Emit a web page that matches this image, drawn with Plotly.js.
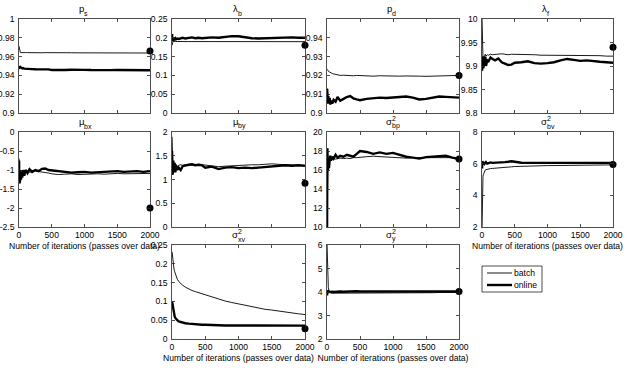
<!DOCTYPE html>
<html>
<head>
<meta charset="utf-8">
<script src="https://cdn.plot.ly/plotly-3.0.1.min.js"></script>
<style>body{margin:0;background:#fff}#chart{width:628px;height:378px}</style>
</head>
<body>
<div id="chart"></div>
<script>
// iterations (passes over data) at which the estimates were read
const iters = [1, 5, 10, 15, 20, 30, 40, 50, 60, 80, 100, 130, 160, 200, 250, 300, 350, 400, 450, 500,
  600, 700, 800, 900, 1000, 1100, 1200, 1300, 1400, 1500, 1600, 1700, 1800, 1900, 2000]

const psBatch = [0.971, 0.968, 0.966, 0.965, 0.9645, 0.9642, 0.9643, 0.9642, 0.9641, 0.9642, 0.9643, 0.9642, 0.9641, 0.9642, 0.9642, 0.9641, 0.9641, 0.9642, 0.9641, 0.9641,
  0.9640, 0.9640, 0.9641, 0.9640, 0.9640, 0.9639, 0.9639, 0.9640, 0.9639, 0.9639, 0.9638, 0.9638, 0.9638, 0.9638, 0.9638]
const psOnline = [0.950, 0.948, 0.9495, 0.9485, 0.949, 0.948, 0.9478, 0.9475, 0.9478, 0.9472, 0.947, 0.9468, 0.9466, 0.9467, 0.9465, 0.9466, 0.9463, 0.9462, 0.9464, 0.9458,
  0.9455, 0.9457, 0.946, 0.9462, 0.9459, 0.9457, 0.9459, 0.9458, 0.9456, 0.9457, 0.9458, 0.9456, 0.9455, 0.9456, 0.9455]

const lbBatch = [0.18, 0.186, 0.189, 0.19, 0.191, 0.19, 0.1905, 0.19, 0.1902, 0.19, 0.1898, 0.19, 0.1901, 0.19, 0.1899, 0.19, 0.19, 0.1901, 0.19, 0.1899,
  0.19, 0.1901, 0.19, 0.1899, 0.1898, 0.19, 0.1899, 0.1898, 0.1899, 0.19, 0.1899, 0.1898, 0.1898, 0.1897, 0.1897]
const lbOnline = [0.21, 0.192, 0.2, 0.194, 0.198, 0.195, 0.197, 0.199, 0.196, 0.198, 0.197, 0.199, 0.2, 0.198, 0.2, 0.201, 0.199, 0.2, 0.199, 0.2,
  0.201, 0.2, 0.202, 0.2045, 0.204, 0.201, 0.199, 0.198, 0.199, 0.2, 0.201, 0.2, 0.201, 0.2, 0.2]

const pdBatch = [0.923, 0.9232, 0.9228, 0.9225, 0.9222, 0.922, 0.9218, 0.9215, 0.9212, 0.921, 0.9208, 0.9205, 0.9202, 0.92, 0.9201, 0.9199, 0.92, 0.9198, 0.92, 0.9199,
  0.9197, 0.9196, 0.9198, 0.9196, 0.9195, 0.9196, 0.9197, 0.9195, 0.9196, 0.9195, 0.9196, 0.9197, 0.9198, 0.9199, 0.92]
const pdOnline = [0.913, 0.908, 0.911, 0.905, 0.909, 0.9055, 0.908, 0.9045, 0.9065, 0.905, 0.907, 0.906, 0.9085, 0.9065, 0.9075, 0.9085, 0.909, 0.9078, 0.9072, 0.9068,
  0.9075, 0.9078, 0.9082, 0.908, 0.9083, 0.9087, 0.9088, 0.9082, 0.9072, 0.9075, 0.9083, 0.9088, 0.9086, 0.9084, 0.9082]

const lfBatch = [10.0, 9.96, 9.93, 9.915, 9.92, 9.918, 9.922, 9.925, 9.921, 9.924, 9.923, 9.925, 9.924, 9.925, 9.926, 9.926, 9.925, 9.924, 9.925, 9.925,
  9.924, 9.924, 9.924, 9.923, 9.923, 9.923, 9.923, 9.923, 9.922, 9.922, 9.922, 9.922, 9.922, 9.921, 9.921]
const lfOnline = [9.89, 9.92, 9.9, 9.915, 9.895, 9.912, 9.905, 9.92, 9.9, 9.912, 9.91, 9.918, 9.915, 9.912, 9.916, 9.908, 9.905, 9.902, 9.903, 9.907,
  9.908, 9.91, 9.906, 9.905, 9.906, 9.908, 9.912, 9.915, 9.913, 9.911, 9.912, 9.91, 9.909, 9.908, 9.907]

const mbxBatch = [-0.7, -1.2, -1.05, -1.3, -1.1, -1.0, -1.15, -1.05, -1.12, -1.0, -1.08, -1.02, -1.06, -1.05, -1.03, -1.04, -1.05, -1.06, -1.08, -1.1,
  -1.12, -1.11, -1.1, -1.12, -1.11, -1.1, -1.1, -1.11, -1.1, -1.09, -1.1, -1.1, -1.1, -1.1, -1.09]
const mbxOnline = [-0.75, -1.35, -1.0, -1.3, -1.05, -1.25, -1.1, -1.2, -1.0, -1.15, -1.0, -1.08, -0.98, -1.05, -1.0, -1.03, -0.97, -0.96, -1.0, -1.01,
  -1.03, -1.05, -1.07, -1.06, -1.05, -1.07, -1.06, -1.05, -1.04, -1.03, -1.05, -1.04, -1.03, -1.05, -1.03]

const mbyBatch = [1.9, 1.5, 1.3, 1.2, 1.35, 1.25, 1.3, 1.28, 1.32, 1.27, 1.3, 1.31, 1.3, 1.31, 1.3, 1.3, 1.31, 1.32, 1.31, 1.3,
  1.28, 1.27, 1.28, 1.29, 1.3, 1.3, 1.31, 1.31, 1.32, 1.33, 1.32, 1.31, 1.3, 1.3, 1.29]
const mbyOnline = [1.6, 1.1, 1.5, 1.15, 1.4, 1.2, 1.35, 1.15, 1.3, 1.2, 1.25, 1.2, 1.28, 1.3, 1.31, 1.32, 1.3, 1.31, 1.3, 1.25,
  1.27, 1.22, 1.25, 1.26, 1.24, 1.25, 1.24, 1.25, 1.26, 1.27, 1.28, 1.3, 1.29, 1.3, 1.29]

const sbpBatch = [10.2, 14, 16.5, 17.2, 16.8, 16.9, 17.1, 17.0, 17.2, 17.1, 17.2, 17.15, 17.2, 17.25, 17.2, 17.25, 17.2, 17.3, 17.3, 17.35,
  17.4, 17.45, 17.4, 17.35, 17.3, 17.3, 17.25, 17.3, 17.3, 17.35, 17.35, 17.3, 17.3, 17.3, 17.3]
const sbpOnline = [10, 18.3, 17.0, 16.0, 16.8, 16.2, 17.0, 17.5, 17.0, 17.4, 17.2, 17.6, 17.3, 17.5, 17.4, 17.6, 17.5, 17.4, 17.7, 18.0,
  17.9, 17.7, 17.85, 17.7, 17.8, 17.6, 17.4, 17.3, 17.2, 17.35, 17.4, 17.45, 17.5, 17.3, 17.15]

const sbvBatch = [2.0, 4.2, 4.9, 5.2, 5.3, 5.45, 5.55, 5.6, 5.62, 5.65, 5.67, 5.69, 5.7, 5.72, 5.74, 5.76, 5.77, 5.79, 5.8, 5.82,
  5.84, 5.85, 5.86, 5.87, 5.88, 5.88, 5.89, 5.89, 5.9, 5.9, 5.9, 5.91, 5.91, 5.92, 5.92]
const sbvOnline = [5.7, 6.15, 5.9, 6.05, 5.95, 6.1, 6.0, 6.05, 6.1, 6.0, 6.05, 6.08, 6.05, 6.07, 6.06, 6.08, 6.1, 6.12, 6.15, 6.12,
  6.06, 6.05, 6.05, 6.04, 6.06, 6.07, 6.05, 6.06, 6.05, 6.06, 6.07, 6.06, 6.06, 6.06, 6.05]

const sxvBatch = [0.232, 0.222, 0.212, 0.203, 0.196, 0.186, 0.179, 0.172, 0.167, 0.159, 0.153, 0.147, 0.143, 0.138, 0.133, 0.129, 0.126, 0.123, 0.12, 0.117,
  0.112, 0.106, 0.101, 0.097, 0.093, 0.089, 0.085, 0.082, 0.079, 0.077, 0.074, 0.071, 0.069, 0.067, 0.065]
const sxvOnline = [0.1, 0.095, 0.088, 0.08, 0.074, 0.066, 0.06, 0.056, 0.053, 0.05, 0.047, 0.045, 0.043, 0.042, 0.041, 0.04, 0.039, 0.039, 0.038, 0.038,
  0.037, 0.037, 0.036, 0.036, 0.036, 0.035, 0.035, 0.036, 0.036, 0.036, 0.036, 0.036, 0.036, 0.0355, 0.0355]

const syBatch = [6.0, 5.4, 4.8, 4.4, 4.2, 4.05, 4.0, 3.97, 3.96, 3.95, 3.95, 3.94, 3.95, 3.95, 3.95, 3.95, 3.96, 3.96, 3.96, 3.96,
  3.96, 3.96, 3.97, 3.97, 3.97, 3.97, 3.97, 3.97, 3.97, 3.97, 3.97, 3.98, 3.98, 3.98, 3.98]
const syOnline = [3.85, 4.05, 3.95, 4.03, 3.98, 4.02, 4.0, 4.01, 4.02, 4.01, 4.0, 4.01, 4.02, 4.02, 4.01, 4.02, 4.02, 4.02, 4.03, 4.02,
  4.02, 4.02, 4.02, 4.03, 4.02, 4.02, 4.02, 4.02, 4.02, 4.02, 4.02, 4.02, 4.02, 4.02, 4.02]

// true parameter values (the dots at the last iteration), in panel order
const trueValues = [0.966, 0.18, 0.92, 9.94, -2, 0.92, 17.15, 5.95, 0.027, 4.02]

// [base, superscript, subscript]
const titles = [['p', '', 's'], ['λ', '', 'b'], ['p', '', 'd'], ['λ', '', 'f'], ['μ', '', 'bx'],
  ['μ', '', 'by'], ['σ', '2', 'bp'], ['σ', '2', 'bv'], ['σ', '2', 'xv'], ['σ', '2', 'y']]

const yTicks = [
  ['0.9', '0.92', '0.94', '0.96', '0.98', '1'],
  ['0', '0.05', '0.1', '0.15', '0.2', '0.25'],
  ['0.9', '0.91', '0.92', '0.93', '0.94'],
  ['9.8', '9.85', '9.9', '9.95', '10'],
  ['-2.5', '-2', '-1.5', '-1', '-0.5', '0'],
  ['0', '0.5', '1', '1.5', '2'],
  ['10', '12', '14', '16', '18', '20'],
  ['2', '4', '6', '8'],
  ['0', '0.05', '0.1', '0.15', '0.2', '0.25'],
  ['2', '3', '4', '5', '6'],
]
const yRanges = [[0.9, 1], [0, 0.25], [0.9, 0.95], [9.8, 10], [-2.5, 0], [0, 2], [10, 20], [2, 8], [0, 0.25], [2, 6]]
const xTicks = ['0', '500', '1000', '1500', '2000']
const seriesNames = ['batch', 'online']

const batchSeries = [psBatch, lbBatch, pdBatch, lfBatch, mbxBatch, mbyBatch, sbpBatch, sbvBatch, sxvBatch, syBatch]
const onlineSeries = [psOnline, lbOnline, pdOnline, lfOnline, mbxOnline, mbyOnline, sbpOnline, sbvOnline, sxvOnline, syOnline]

// layout of the grid (pixels in the 628x378 figure)
const W = 628, H = 378
const cols = [[19, 150], [172, 305], [327, 459], [482, 613]]
const rows = [[19, 113], [132, 227], [245, 339]]
const cells = [[0, 0], [0, 1], [0, 2], [0, 3], [1, 0], [1, 1], [1, 2], [1, 3], [2, 1], [2, 2]]
const withXLabels = [4, 7, 8, 9]

const font = { family: 'Liberation Sans, Arial, sans-serif', size: 8.6, color: '#000' }
const xLabel = 'Number of iterations (passes over data)'
const lineWidths = [0.9, 2.4]

let data = []
let layout = {
  width: W,
  height: H,
  margin: { l: 0, r: 0, t: 0, b: 0 },
  paper_bgcolor: '#fff',
  plot_bgcolor: '#fff',
  font,
  showlegend: false,
  annotations: [],
  shapes: [],
}

cells.forEach(([r, c], i) => {
  const n = i === 0 ? '' : String(i + 1)
  const xa = 'x' + n, ya = 'y' + n
  const showX = withXLabels.includes(i)

  layout['xaxis' + n] = {
    domain: [cols[c][0] / W, cols[c][1] / W],
    anchor: ya,
    range: [0, 2000],
    tickvals: xTicks.map(Number),
    ticktext: xTicks,
    showticklabels: showX,
    ticks: 'inside', ticklen: 3, tickcolor: '#222', tickwidth: 0.8,
    showline: true, linecolor: '#222', linewidth: 0.8, mirror: 'ticks',
    showgrid: false, zeroline: false,
    tickfont: font,
    title: showX ? { text: xLabel, font, standoff: 3 } : { text: '' },
  }
  layout['yaxis' + n] = {
    domain: [1 - rows[r][1] / H, 1 - rows[r][0] / H],
    anchor: xa,
    range: yRanges[i],
    tickvals: yTicks[i].map(Number),
    ticktext: yTicks[i],
    ticks: 'inside', ticklen: 3, tickcolor: '#222', tickwidth: 0.8,
    showline: true, linecolor: '#222', linewidth: 0.8, mirror: 'ticks',
    showgrid: false, zeroline: false,
    tickfont: font,
    ticklabelstandoff: 2,
  }

  data.push({
    x: iters, y: batchSeries[i], xaxis: xa, yaxis: ya,
    type: 'scatter', mode: 'lines', name: seriesNames[0],
    line: { color: '#000', width: lineWidths[0] },
  })
  data.push({
    x: iters, y: onlineSeries[i], xaxis: xa, yaxis: ya,
    type: 'scatter', mode: 'lines', name: seriesNames[1],
    line: { color: '#000', width: lineWidths[1] },
  })
  data.push({
    x: [2000], y: [trueValues[i]], xaxis: xa, yaxis: ya,
    type: 'scatter', mode: 'markers',
    marker: { color: '#000', size: 7 },
    cliponaxis: false,
  })

  // title: base letter with subscript, and stacked superscript for the variances
  const [base, sup, sub] = titles[i]
  const tf = { ...font, size: 9.5 }
  const sf = { ...font, size: 7 }
  const common = { xref: xa + ' domain', yref: ya + ' domain', x: 0.5, y: 1, yanchor: 'bottom', showarrow: false }
  layout.annotations.push({ ...common, xanchor: 'right', xshift: 1, yshift: 3, text: base, font: tf })
  if (sup) {
    layout.annotations.push({ ...common, xanchor: 'left', xshift: -3, yshift: 8, text: sup, font: sf })
  }
  layout.annotations.push({ ...common, xanchor: 'left', xshift: -3, yshift: 0, text: sub, font: sf })
})

// hand-made legend box (MATLAB style) in the empty bottom-right cell
const lg = { x0: 482, x1: 542, y0: 266, y1: 292 }
layout.shapes.push({
  type: 'rect', xref: 'paper', yref: 'paper',
  x0: lg.x0 / W, x1: lg.x1 / W, y0: 1 - lg.y1 / H, y1: 1 - lg.y0 / H,
  line: { color: '#222', width: 0.8 }, fillcolor: '#fff',
})
seriesNames.forEach((name, k) => {
  const yy = 1 - (lg.y0 + 7 + k * 12) / H
  layout.shapes.push({
    type: 'line', xref: 'paper', yref: 'paper',
    x0: (lg.x0 + 5) / W, x1: (lg.x0 + 30) / W, y0: yy, y1: yy,
    line: { color: '#000', width: lineWidths[k] },
  })
  layout.annotations.push({
    xref: 'paper', yref: 'paper', x: (lg.x0 + 30) / W, y: yy,
    xanchor: 'left', yanchor: 'middle', showarrow: false,
    text: name, font,
  })
})

Plotly.newPlot('chart', data, layout, { staticPlot: true })
</script>
</body>
</html>
